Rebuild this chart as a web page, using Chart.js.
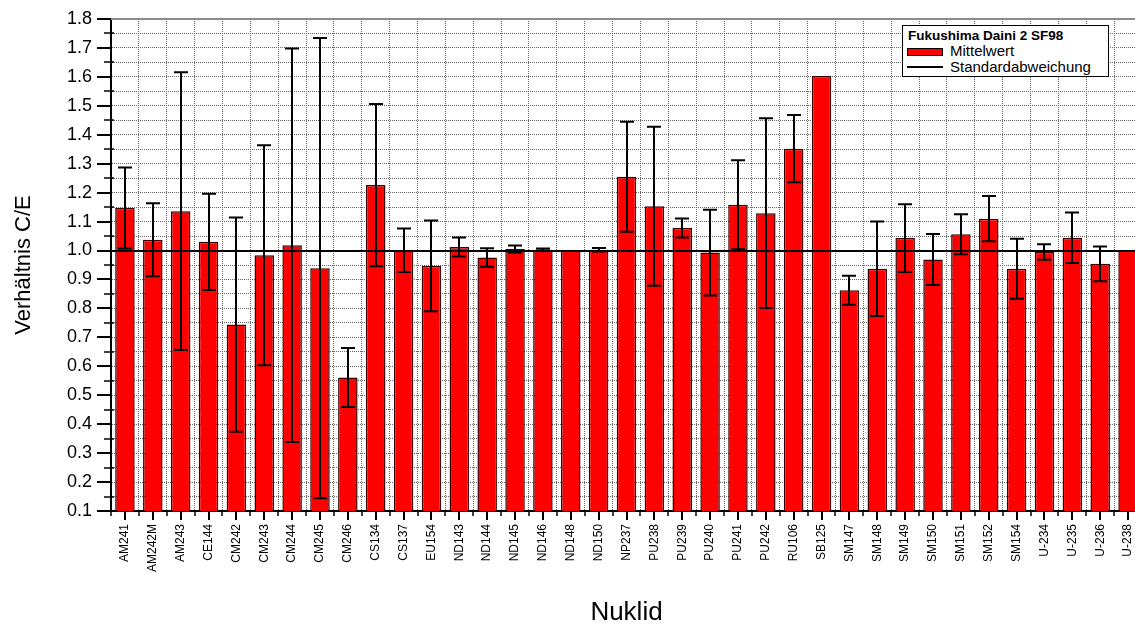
<!DOCTYPE html>
<html>
<head>
<meta charset="utf-8">
<script src="https://cdn.jsdelivr.net/npm/chart.js@4.4.1/dist/chart.umd.min.js"></script>
<style>
  html, body { margin: 0; padding: 0; background: #fff; overflow: hidden; }
  #wrap { position: relative; width: 1150px; height: 626px; }
  #legend { position: absolute; left: 902px; top: 25px; width: 205px; height: 50px; border: 1px solid #000; background: #fff;
            font-family: "Liberation Sans", Arial, sans-serif; color: #000; }
  #legend .t { position: absolute; left: 5px; top: 3px; font-weight: bold; font-size: 13.5px; line-height: 14px; white-space: nowrap; }
  #legend .sw { position: absolute; left: 4px; top: 22px; width: 34px; height: 6px; background: #ff0000; border: 1px solid #000; }
  #legend .ln { position: absolute; left: 4px; top: 40px; width: 36px; height: 2px; background: #000; }
  #legend .l1 { position: absolute; left: 47px; top: 17px; font-size: 15px; line-height: 16px; white-space: nowrap; }
  #legend .l2 { position: absolute; left: 47px; top: 33px; font-size: 15px; line-height: 16px; white-space: nowrap; }
</style>
</head>
<body>
<div id="wrap">
  <canvas id="c"></canvas>
  <div id="legend">
    <div class="t">Fukushima Daini 2 SF98</div>
    <div class="sw"></div><div class="l1">Mittelwert</div>
    <div class="ln"></div><div class="l2">Standardabweichung</div>
  </div>
</div>
<script>
// ---- data ----
const categories = ['AM241','AM242M','AM243','CE144','CM242','CM243','CM244','CM245','CM246','CS134','CS137','EU154',
  'ND143','ND144','ND145','ND146','ND148','ND150','NP237','PU238','PU239','PU240','PU241','PU242','RU106','SB125',
  'SM147','SM148','SM149','SM150','SM151','SM152','SM154','U-234','U-235','U-236','U-238'];
const meanValues = [1.147, 1.037, 1.136, 1.030, 0.744, 0.984, 1.018, 0.939, 0.561, 1.226, 1.001, 0.947,
  1.012, 0.976, 1.005, 1.003, 1.000, 1.003, 1.255, 1.153, 1.078, 0.993, 1.158, 1.129, 1.352, 1.603,
  0.863, 0.937, 1.043, 0.969, 1.056, 1.110, 0.937, 0.995, 1.044, 0.954, 1.000];
const stdDevs = [0.140, 0.126, 0.480, 0.166, 0.370, 0.380, 0.680, 0.795, 0.102, 0.280, 0.075, 0.157,
  0.033, 0.032, 0.012, 0.004, null, 0.006, 0.190, 0.275, 0.033, 0.148, 0.154, 0.328, 0.116, null,
  0.050, 0.163, 0.117, 0.088, 0.069, 0.078, 0.104, 0.027, 0.087, 0.060, null];
const referenceLine = 1.0;
const yMin = 0.1, yMax = 1.8, yStep = 0.05;
const seriesName = 'Mittelwert';
const xAxisTitle = 'Nuklid';
const yAxisTitle = 'Verhältnis C/E';

const FONT = '"Liberation Sans", Arial, sans-serif';
Chart.defaults.font.family = FONT;
Chart.defaults.color = '#000';

const isMajor = v => Math.abs(v * 10 - Math.round(v * 10)) < 1e-6;

const overlay = {
  id: 'overlay',
  beforeDatasetsDraw(chart) {
    const { ctx, chartArea: a } = chart;
    ctx.save();
    ctx.strokeStyle = '#8c8c8c';
    ctx.lineWidth = 2;
    ctx.beginPath();
    ctx.moveTo(a.left, a.top);
    ctx.lineTo(a.right, a.top);
    ctx.stroke();
    ctx.restore();
  },
  afterDatasetsDraw(chart) {
    const { ctx, chartArea: a, scales: { x, y } } = chart;
    ctx.save();
    ctx.strokeStyle = '#000';
    ctx.lineWidth = 2;
    const yr = Math.round(y.getPixelForValue(referenceLine));
    ctx.beginPath();
    ctx.moveTo(a.left, yr);
    ctx.lineTo(a.right, yr);
    ctx.stroke();
    meanValues.forEach((m, i) => {
      const sd = stdDevs[i];
      if (sd == null) return;
      const cx = Math.round(x.getPixelForValue(i));
      const yt = y.getPixelForValue(m + sd);
      const yb = y.getPixelForValue(m - sd);
      ctx.beginPath();
      ctx.moveTo(cx, yt); ctx.lineTo(cx, yb);
      ctx.moveTo(cx - 7, yt); ctx.lineTo(cx + 7, yt);
      ctx.moveTo(cx - 7, yb); ctx.lineTo(cx + 7, yb);
      ctx.stroke();
    });
    ctx.restore();
  },
  afterDraw(chart) {
    const { ctx, chartArea: a, scales: { x, y } } = chart;
    ctx.save();
    ctx.strokeStyle = '#000';
    // y ticks
    y.ticks.forEach(t => {
      const py = Math.round(y.getPixelForValue(t.value));
      ctx.beginPath();
      if (isMajor(t.value)) { ctx.lineWidth = 2; ctx.moveTo(a.left - 14, py); ctx.lineTo(a.left, py); }
      else { ctx.lineWidth = 1.5; ctx.moveTo(a.left - 7, py); ctx.lineTo(a.left + 3, py); }
      ctx.stroke();
    });
    // x ticks: major at centers, minor at boundaries
    const w = (a.right - a.left) / categories.length;
    ctx.lineWidth = 2;
    categories.forEach((c, i) => {
      const cx = Math.round(x.getPixelForValue(i));
      ctx.beginPath(); ctx.moveTo(cx, a.bottom); ctx.lineTo(cx, a.bottom + 9); ctx.stroke();
    });
    ctx.lineWidth = 1.5;
    for (let i = 0; i <= categories.length; i++) {
      const bx = Math.round(a.left + i * w);
      ctx.beginPath(); ctx.moveTo(bx, a.bottom); ctx.lineTo(bx, a.bottom + 5); ctx.stroke();
    }
    ctx.restore();
  }
};

new Chart(document.getElementById('c'), {
  type: 'bar',
  data: {
    labels: categories,
    datasets: [{
      label: seriesName,
      data: meanValues,
      backgroundColor: '#ff0000',
      borderColor: '#3a0000',
      borderWidth: 1.5,
      borderSkipped: 'start',
      barPercentage: 0.7,
      categoryPercentage: 1.0
    }]
  },
  options: {
    responsive: true,
    maintainAspectRatio: false,
    animation: false,
    layout: { padding: { left: 0, top: 19, right: 8, bottom: 0 } },
    plugins: { legend: { display: false }, tooltip: { enabled: false } },
    scales: {
      x: {
        grid: { offset: true, color: '#666', lineWidth: 1, drawTicks: false },
        border: { color: '#000', width: 2, dash: [1, 1] },
        ticks: { autoSkip: false, maxRotation: 90, minRotation: 90, padding: 13, font: { size: 12 }, color: '#000' },
        title: { display: true, text: xAxisTitle, font: { size: 26, lineHeight: 1 }, color: '#000', padding: { top: 0, bottom: 0 } },
        afterFit(s) { s.height = 115; s.paddingLeft = 0; s.paddingRight = 0; }
      },
      y: {
        min: yMin, max: yMax,
        grid: { color: '#666', lineWidth: 1, drawTicks: false },
        border: { color: '#000', width: 2, dash: [1, 1] },
        ticks: { stepSize: yStep, autoSkip: false, padding: 19, font: { size: 18 }, color: '#000',
                 callback: v => isMajor(v) ? v.toFixed(1) : '' },
        title: { display: true, text: yAxisTitle, font: { size: 22, lineHeight: 1 }, color: '#000', padding: { top: 13, bottom: 0 } },
        afterFit(s) { s.width = 111; s.paddingTop = 0; s.paddingBottom = 0; }
      }
    }
  },
  plugins: [overlay]
});
</script>
</body>
</html>
